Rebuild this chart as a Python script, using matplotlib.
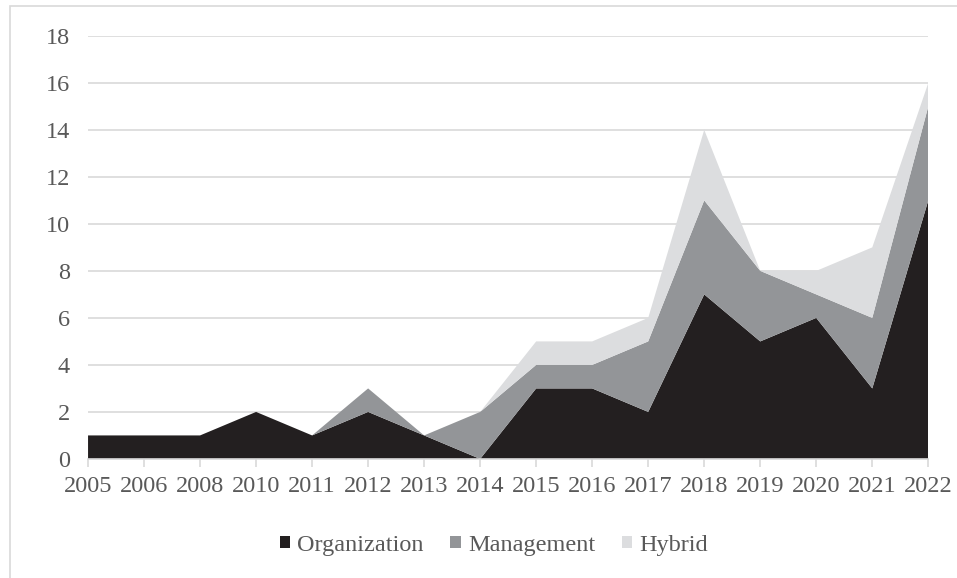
import matplotlib
matplotlib.use("Agg")
import matplotlib.pyplot as plt
from matplotlib.patches import Rectangle
import numpy as np

years = ["2005", "2006", "2008", "2010", "2011", "2012", "2013", "2014", "2015",
         "2016", "2017", "2018", "2019", "2020", "2021", "2022"]
organization = [1, 1, 1, 2, 1, 2, 1, 0, 3, 3, 2, 7, 5, 6, 3, 11]
management = [0, 0, 0, 0, 0, 1, 0, 2, 1, 1, 3, 4, 3, 1, 3, 4]
hybrid = [0, 0, 0, 0, 0, 0, 0, 0, 1, 1, 1, 3, 0, 1, 3, 1]
series_names = ["Organization", "Management", "Hybrid"]
colors = ["#231f20", "#939598", "#dcdddf"]

plt.rcParams['font.family'] = ['Liberation Serif', 'DejaVu Serif']
text_color = "#595959"
fs = 17.5

fig = plt.figure(figsize=(9.57, 5.78), dpi=100)
ax = fig.add_axes([0.092, 0.206, 0.878, 0.732])

x = np.arange(len(years))
ax.stackplot(x, organization, management, hybrid, colors=colors,
             labels=series_names, linewidth=0, zorder=2)

ax.set_xlim(0, len(years) - 1)
ax.set_ylim(0, 18)
ax.set_yticks(range(0, 19, 2))
ax.set_xticks(x)
ax.set_xticklabels(years)
ax.yaxis.grid(True, color="#d9d9d9", linewidth=1.2, zorder=0)
ax.set_axisbelow(True)
for s in ["top", "right", "left"]:
    ax.spines[s].set_visible(False)
ax.spines["bottom"].set_color("#d9d9d9")
ax.spines["bottom"].set_linewidth(1.2)
ax.spines["bottom"].set_zorder(3)
ax.tick_params(axis="y", length=0, pad=13, labelsize=fs, labelcolor=text_color)
ax.tick_params(axis="x", length=6, width=1.2, color="#d9d9d9", direction="out",
               pad=6, labelsize=fs, labelcolor=text_color)

leg = fig.legend(loc="center", bbox_to_anchor=(0.516, 0.057), ncol=3, frameon=False,
                 fontsize=fs, handlelength=0.42, handleheight=0.42, handletextpad=0.3,
                 columnspacing=1.1, labelcolor=text_color)

fig.patches.append(Rectangle((10 / 957, -0.1), 1.2, 1.1 - 6 / 578,
                             transform=fig.transFigure, fill=False,
                             edgecolor="#d9d9d9", linewidth=1.2))

fig.savefig("out.png", dpi=100)
